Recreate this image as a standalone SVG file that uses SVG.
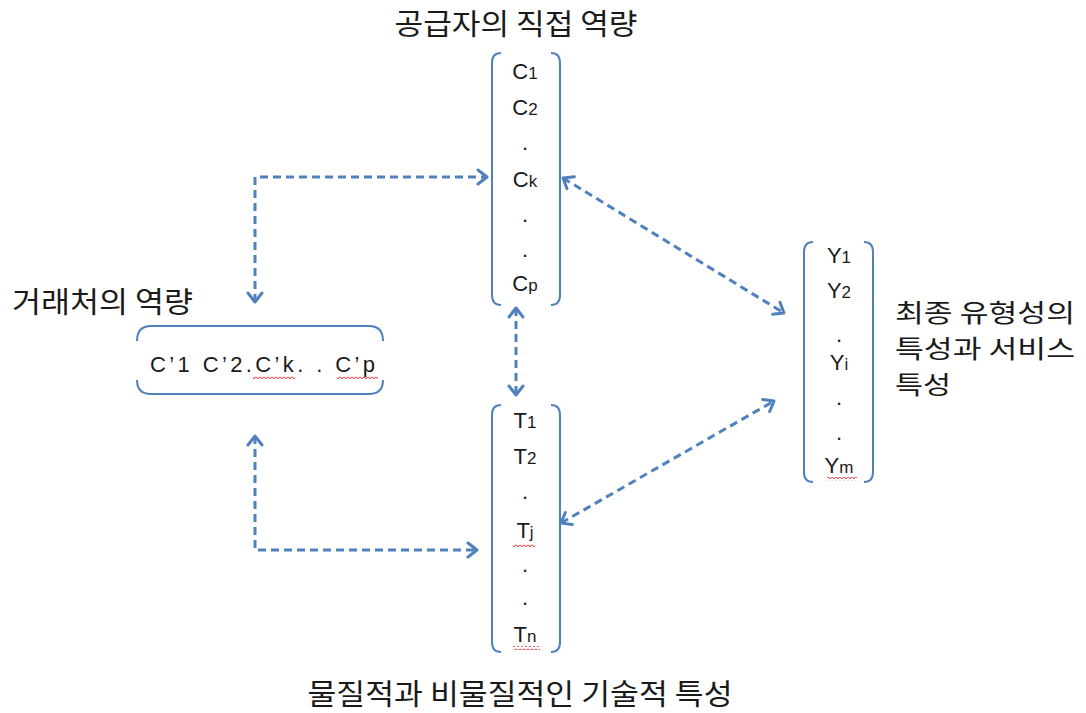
<svg xmlns="http://www.w3.org/2000/svg" width="1086" height="713" viewBox="0 0 1086 713">
<style>
.kr{font-family:"Noto Sans CJK KR","Noto Sans",sans-serif;font-size:29px;fill:#1a1a1a}
.kr2{font-family:"Noto Sans CJK KR","Noto Sans",sans-serif;font-size:24.5px;fill:#1a1a1a}
.lt{font-family:"Liberation Sans","DejaVu Sans",sans-serif;font-size:22px;fill:#1a1a1a;text-anchor:middle}
.sub{font-size:17px}
.br{fill:none;stroke:#4F81BD;stroke-width:2}
.ar{fill:none;stroke:#4F81BD;stroke-width:3;stroke-dasharray:8 5;marker-start:url(#ah);marker-end:url(#ah)}
.sq{fill:url(#wave)}
</style>
<defs>
<marker id="ah" markerUnits="userSpaceOnUse" markerWidth="16" markerHeight="18" refX="12" refY="8" orient="auto-start-reverse" viewBox="0 0 16 16">
<path d="M3,1 L12,8 L3,15" fill="none" stroke="#4F81BD" stroke-width="3" stroke-linecap="round" stroke-linejoin="round"/>
</marker>
<pattern id="wave" patternUnits="userSpaceOnUse" width="4" height="4">
<path d="M0,0.6 L2,2.8 L4,0.6" fill="none" stroke="#e02020" stroke-width="1"/>
</pattern>
</defs>

<g id="labels">
<text class="kr" x="516" y="35" text-anchor="middle" textLength="243" lengthAdjust="spacingAndGlyphs">공급자의 직접 역량</text>
<text class="kr" x="12" y="313" textLength="181" lengthAdjust="spacingAndGlyphs">거래처의 역량</text>
<text class="kr2" x="895" y="322" textLength="180" lengthAdjust="spacingAndGlyphs">최종 유형성의</text>
<text class="kr2" x="895" y="358" textLength="180" lengthAdjust="spacingAndGlyphs">특성과 서비스</text>
<text class="kr2" x="895" y="394" textLength="56" lengthAdjust="spacingAndGlyphs">특성</text>
<text class="kr" x="520" y="705" text-anchor="middle" textLength="425" lengthAdjust="spacingAndGlyphs">물질적과 비물질적인 기술적 특성</text>
</g>

<g id="node-C">
<path class="br" d="M501,53 Q492,53 492,63 L492,295 Q492,305 501,305"/>
<path class="br" d="M551,53 Q560,53 560,63 L560,295 Q560,305 551,305"/>
<text class="lt" x="525" y="79">C<tspan class="sub">1</tspan></text>
<text class="lt" x="525" y="115">C<tspan class="sub">2</tspan></text>
<text class="lt" x="525" y="150">.</text>
<text class="lt" x="525" y="187">C<tspan class="sub">k</tspan></text>
<text class="lt" x="525" y="222">.</text>
<text class="lt" x="525" y="257">.</text>
<text class="lt" x="525" y="291">C<tspan class="sub">p</tspan></text>
</g>

<g id="node-Cprime">
<path class="br" d="M137,341 Q137,326 151,326 L369,326 Q383,326 383,341"/>
<path class="br" d="M137,380 Q137,394 151,394 L369,394 Q383,394 383,380"/>
<text x="150" y="372" style="font-family:'Liberation Sans','DejaVu Sans',sans-serif;font-size:22px;fill:#1a1a1a" textLength="225" lengthAdjust="spacing">C’1 C’2.C’k. . C’p</text>
<rect class="sq" x="253" y="376" width="42" height="4"/>
<rect class="sq" x="337" y="376" width="41" height="4"/>
</g>

<g id="node-T">
<path class="br" d="M501,405 Q492,405 492,415 L492,642 Q492,652 501,652"/>
<path class="br" d="M551,405 Q560,405 560,415 L560,642 Q560,652 551,652"/>
<text class="lt" x="525" y="428">T<tspan class="sub">1</tspan></text>
<text class="lt" x="525" y="464">T<tspan class="sub">2</tspan></text>
<text class="lt" x="525" y="499">.</text>
<text class="lt" x="525" y="538">T<tspan class="sub">j</tspan></text>
<text class="lt" x="525" y="572">.</text>
<text class="lt" x="525" y="605">.</text>
<text class="lt" x="525" y="642">T<tspan class="sub">n</tspan></text>
<rect class="sq" x="513" y="543" width="22" height="4"/>
<rect class="sq" x="513" y="646" width="27" height="4"/>
</g>

<g id="node-Y">
<path class="br" d="M813,242 Q804,242 804,252 L804,472 Q804,482 813,482"/>
<path class="br" d="M864,242 Q873,242 873,252 L873,472 Q873,482 864,482"/>
<text class="lt" x="839" y="263">Y<tspan class="sub">1</tspan></text>
<text class="lt" x="839" y="298">Y<tspan class="sub">2</tspan></text>
<text class="lt" x="839" y="342">.</text>
<text class="lt" x="839" y="370">Y<tspan class="sub">i</tspan></text>
<text class="lt" x="839" y="405">.</text>
<text class="lt" x="839" y="440">.</text>
<text class="lt" x="839" y="473">Y<tspan class="sub">m</tspan></text>
<rect class="sq" x="827" y="477" width="30" height="4"/>
</g>

<g id="connectors">
<path class="ar" d="M255,302 L255,177 L487,177"/>
<path class="ar" d="M255,436 L255,550 L477,550"/>
<path class="ar" d="M516,308 L516,395"/>
<path class="ar" d="M563,178 L784,313"/>
<path class="ar" d="M561,523 L774,401"/>
</g>
</svg>
